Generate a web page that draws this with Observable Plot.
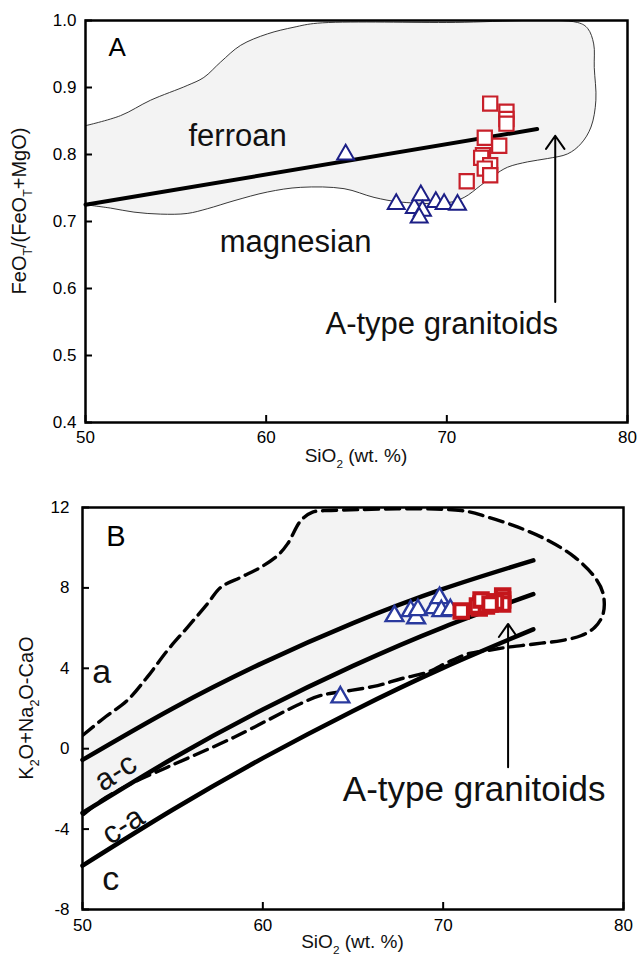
<!DOCTYPE html>
<html><head><meta charset="utf-8">
<script src="https://cdn.jsdelivr.net/npm/d3@7"></script>
<script src="https://cdn.jsdelivr.net/npm/@observablehq/plot@0.6"></script>
<style>
body{margin:0;background:#fff;width:639px;height:963px;overflow:hidden;font-family:"Liberation Sans",Arial,sans-serif;}
#chart svg{display:block}
</style></head><body><div id="chart"></div>
<script>
// ---------- shared ticks ----------
const xTicks = [50, 60, 70, 80];
const yTicksA = [0.4, 0.5, 0.6, 0.7, 0.8, 0.9, 1.0];
const yTicksB = [-8, -4, 0, 4, 8, 12];

// ---------- Panel A data ----------
const fieldA_x = [50, 51.94, 53.6, 55.63, 56.55, 57.48, 58.59, 60.07, 61.54, 62.84, 70, 77.24, 77.8, 78.13, 78.16, 78.25, 77.98, 77.42, 76.69, 75.58, 74.47, 73.36, 72.62, 71.88, 70.96, 70.04, 67.45, 65.97, 64.31, 61.91, 60.07, 58.22, 56.74, 55.63, 54.16, 52.68, 51.39, 50];
const fieldA_y = [0.843, 0.858, 0.881, 0.903, 0.915, 0.938, 0.963, 0.980, 0.990, 0.996, 0.997, 0.997, 0.988, 0.965, 0.930, 0.881, 0.841, 0.816, 0.801, 0.794, 0.789, 0.781, 0.769, 0.754, 0.736, 0.728, 0.729, 0.736, 0.749, 0.751, 0.744, 0.731, 0.719, 0.712, 0.711, 0.714, 0.720, 0.725];
const divideA_x = [50, 75];
const divideA_y = [0.725, 0.838];
const triA_x = [64.4, 67.2, 68.2, 68.56, 68.65, 68.47, 69.39, 69.85, 70.59];
const triA_y = [0.800, 0.726, 0.720, 0.739, 0.716, 0.706, 0.729, 0.726, 0.725];
const sqA_x = [72.4, 73.3, 73.3, 73.3, 72.1, 72.9, 72.0, 71.9, 72.4, 72.1, 72.4, 71.1];
const sqA_y = [0.876, 0.864, 0.853, 0.846, 0.825, 0.813, 0.799, 0.795, 0.784, 0.779, 0.769, 0.760];
const arrowA = [{x: 76.0, y1: 0.580, y2: 0.828}];
const labelsA_text = ["A", "ferroan", "magnesian", "A-type granitoids"];
const labelsA_x = [51.75, 58.42, 61.63, 69.72];
const labelsA_y = [0.96, 0.828, 0.670, 0.547];

// ---------- Panel B data ----------
const fieldB_x = [50, 51.3, 52.48, 53.59, 54.71, 55.82, 56.93, 57.67, 58.78, 59.89, 60.82, 61.37, 62.11, 62.76, 63.78, 71.0, 72.48, 74.15, 75.82, 77.29, 78.41, 78.87, 78.87, 78.41, 77.67, 76.56, 75.44, 74.33, 73.59, 72.48, 71.37, 70.26, 69.15, 67.67, 66.37, 64.89, 63.22, 62.11, 58.41, 54.71, 52.85, 51.0, 50];
const fieldB_y = [0.66, 1.6, 2.4, 3.56, 4.89, 6.04, 7.21, 8.03, 8.53, 9.03, 9.61, 10.19, 11.35, 11.77, 11.85, 11.85, 11.52, 11.02, 10.36, 9.53, 8.53, 7.71, 6.71, 6.04, 5.63, 5.38, 5.25, 5.13, 5.05, 4.89, 4.72, 4.30, 3.81, 3.48, 3.14, 2.90, 2.65, 2.25, 0.57, -0.92, -1.67, -2.6, -3.32];
const maliX = [50, 55, 60, 65, 70, 75];
const maliA_AC = [-0.56, 2.0, 4.27, 6.25, 7.95, 9.37];
const maliAC_CA = [-3.2, -0.49, 1.95, 4.12, 6.04, 7.69];
const maliCA_C = [-5.82, -3.04, -0.47, 1.88, 4.02, 5.94];
const triB_x = [64.3, 67.3, 68.2, 68.5, 68.6, 69.5, 69.8, 69.9, 70.4];
const triB_y = [2.56, 6.6, 6.85, 6.5, 6.9, 7.0, 7.5, 6.85, 6.9];
const sqB_x = [72.4, 73.3, 73.3, 73.3, 72.1, 72.9, 72.0, 71.9, 72.4, 72.1, 72.6, 71.0];
const sqB_y = [7.3, 7.6, 7.4, 7.2, 7.2, 7.3, 7.0, 7.1, 7.1, 7.4, 7.2, 6.85];
const arrowB = [{x: 73.6, y1: -0.92, y2: 6.21}];
const labelsB_text = ["B", "a", "c"];
const labelsB_x = [51.86, 51.06, 51.56];
const labelsB_y = [10.56, 3.79, -6.51];
const rotLabelsB_text = ["a-c", "c-a"];
const rotLabelsB_x = [51.83, 52.24];
const rotLabelsB_y = [-1.17, -3.82];
const atypeB = [{text: "A-type granitoids", x: 71.72, y: -2.03}];

// ---------- helpers ----------
const pts = (xs, ys) => xs.map((x, i) => ({x, y: ys[i]}));
const FONT = "Liberation Sans, Arial, sans-serif";

// ---------- Panel A ----------
const A = {W: 639, H: 470, mt: 20, mb: 48, ml: 85, mr: 12};
const innerWA = A.W - A.ml - A.mr, innerHA = A.H - A.mt - A.mb;
const svgA = Plot.plot({
  width: A.W, height: A.H,
  marginTop: A.mt, marginBottom: A.mb, marginLeft: A.ml, marginRight: A.mr,
  style: {fontFamily: FONT, background: "white", color: "black"},
  x: {domain: [50, 80]},
  y: {domain: [0.4, 1.0]},
  marks: [
    Plot.line(pts(fieldA_x, fieldA_y), {x: "x", y: "y", curve: "catmull-rom", fill: "#f3f3f3", stroke: "#222", strokeWidth: 0.9, clip: true}),
    Plot.line(pts(divideA_x, divideA_y), {x: "x", y: "y", stroke: "black", strokeWidth: 4}),
    Plot.arrow(arrowA, {x: "x", y1: "y1", y2: "y2", stroke: "black", strokeWidth: 2, headLength: 12, headAngle: 70}),
    Plot.dot(pts(triA_x, triA_y), {x: "x", y: "y", symbol: "triangle", r: 6.3, stroke: "#1c1f86", strokeWidth: 2, fill: "white"}),
    Plot.dot(pts(sqA_x, sqA_y), {x: "x", y: "y", symbol: "square", r: 8, stroke: "#c8202a", strokeWidth: 2.2, fill: "white"}),
    Plot.text(labelsA_text.slice(0, 1), {x: labelsA_x.slice(0, 1), y: labelsA_y.slice(0, 1), text: d => d, fontSize: 26, textAnchor: "middle", lineAnchor: "middle", fill: "black"}),
    Plot.text(labelsA_text.slice(1), {x: labelsA_x.slice(1), y: labelsA_y.slice(1), text: d => d, fontSize: 31, textAnchor: "middle", lineAnchor: "middle", fill: "#111"}),
    Plot.tickX(xTicks, {x: d => d, insetTop: innerHA - 7, strokeWidth: 2}),
    Plot.tickY(yTicksA, {y: d => d, insetRight: innerWA - 7, strokeWidth: 2}),
    Plot.axisX(xTicks, {tickSize: 0, tickPadding: 8, fontSize: 17, tickFormat: d => String(d), label: null}),
    Plot.axisY(yTicksA, {tickSize: 0, tickPadding: 9, fontSize: 17, tickFormat: d3.format(".1f"), label: null}),
    Plot.frame({stroke: "black", strokeWidth: 2.5})
  ]
});

// ---------- Panel B ----------
const B = {W: 639, H: 493, mt: 37, mb: 54, ml: 82, mr: 16};
const innerWB = B.W - B.ml - B.mr, innerHB = B.H - B.mt - B.mb;
const svgB = Plot.plot({
  width: B.W, height: B.H,
  marginTop: B.mt, marginBottom: B.mb, marginLeft: B.ml, marginRight: B.mr,
  style: {fontFamily: FONT, background: "white", color: "black"},
  x: {domain: [50, 80]},
  y: {domain: [-8, 12]},
  marks: [
    Plot.line(pts(fieldB_x, fieldB_y), {x: "x", y: "y", curve: "catmull-rom", fill: "#f3f3f3", stroke: "black", strokeWidth: 3.4, strokeDasharray: "14,7", clip: true}),
    Plot.line(pts(maliX, maliA_AC), {x: "x", y: "y", curve: "natural", stroke: "black", strokeWidth: 4.5}),
    Plot.line(pts(maliX, maliAC_CA), {x: "x", y: "y", curve: "natural", stroke: "black", strokeWidth: 4.5}),
    Plot.line(pts(maliX, maliCA_C), {x: "x", y: "y", curve: "natural", stroke: "black", strokeWidth: 4.5}),
    Plot.arrow(arrowB, {x: "x", y1: "y1", y2: "y2", stroke: "black", strokeWidth: 2, headLength: 12, headAngle: 70}),
    Plot.dot(pts(triB_x, triB_y), {x: "x", y: "y", symbol: "triangle", r: 6.6, stroke: "#2a3a9e", strokeWidth: 2.4, fill: "white"}),
    Plot.dot(pts(sqB_x, sqB_y), {x: "x", y: "y", symbol: "square", r: 7.6, stroke: "#c4161c", strokeWidth: 4, fill: "white"}),
    Plot.text(labelsB_text.slice(0, 1), {x: labelsB_x.slice(0, 1), y: labelsB_y.slice(0, 1), text: d => d, fontSize: 29, textAnchor: "middle", lineAnchor: "middle", fill: "black"}),
    Plot.text(labelsB_text.slice(1), {x: labelsB_x.slice(1), y: labelsB_y.slice(1), text: d => d, fontSize: 34, textAnchor: "middle", lineAnchor: "middle", fill: "#111"}),
    Plot.text(rotLabelsB_text, {x: rotLabelsB_x, y: rotLabelsB_y, text: d => d, fontSize: 31, rotate: -33, textAnchor: "middle", lineAnchor: "middle", fill: "#111"}),
    Plot.text(atypeB, {x: "x", y: "y", text: "text", fontSize: 35, textAnchor: "middle", lineAnchor: "middle", fill: "#111", letterSpacing: "1.3px"}),
    Plot.tickX(xTicks, {x: d => d, insetTop: innerHB - 7, strokeWidth: 2}),
    Plot.tickY(yTicksB, {y: d => d, insetRight: innerWB - 7, strokeWidth: 2}),
    Plot.axisX(xTicks, {tickSize: 0, tickPadding: 9, fontSize: 17, tickFormat: d => String(d), label: null}),
    Plot.axisY(yTicksB, {tickSize: 0, tickPadding: 13, fontSize: 17, tickFormat: d => String(d), label: null}),
    Plot.frame({stroke: "black", strokeWidth: 2.5})
  ]
});

// ---------- axis titles with subscripts ----------
function addLabel(svg, x, y, rot, parts, size) {
  const t = d3.select(svg).append("text")
    .attr("transform", `translate(${x},${y}) rotate(${rot})`)
    .attr("text-anchor", "middle")
    .attr("font-family", FONT)
    .attr("font-size", size)
    .attr("fill", "#111");
  let shifted = false;
  parts.forEach(([s, sub]) => {
    const ts = t.append("tspan").text(s);
    if (sub && !shifted) { ts.attr("dy", size * 0.3).attr("font-size", size * 0.62); shifted = true; }
    else if (!sub && shifted) { ts.attr("dy", -size * 0.3); shifted = false; }
  });
}
addLabel(svgA, (A.ml + A.W - A.mr) / 2, 462, 0, [["SiO"], ["2", true], [" (wt. %)"]], 19);
addLabel(svgA, 26, 211, -90, [["FeO"], ["T", true], ["/(FeO"], ["T", true], ["+MgO)"]], 20);
addLabel(svgB, (B.ml + B.W - B.mr) / 2, 478, 0, [["SiO"], ["2", true], [" (wt. %)"]], 19);
addLabel(svgB, 33, 238, -90, [["K"], ["2", true], ["O+Na"], ["2", true], ["O-CaO"]], 20);

document.getElementById("chart").append(svgA, svgB);
</script>
</body></html>
